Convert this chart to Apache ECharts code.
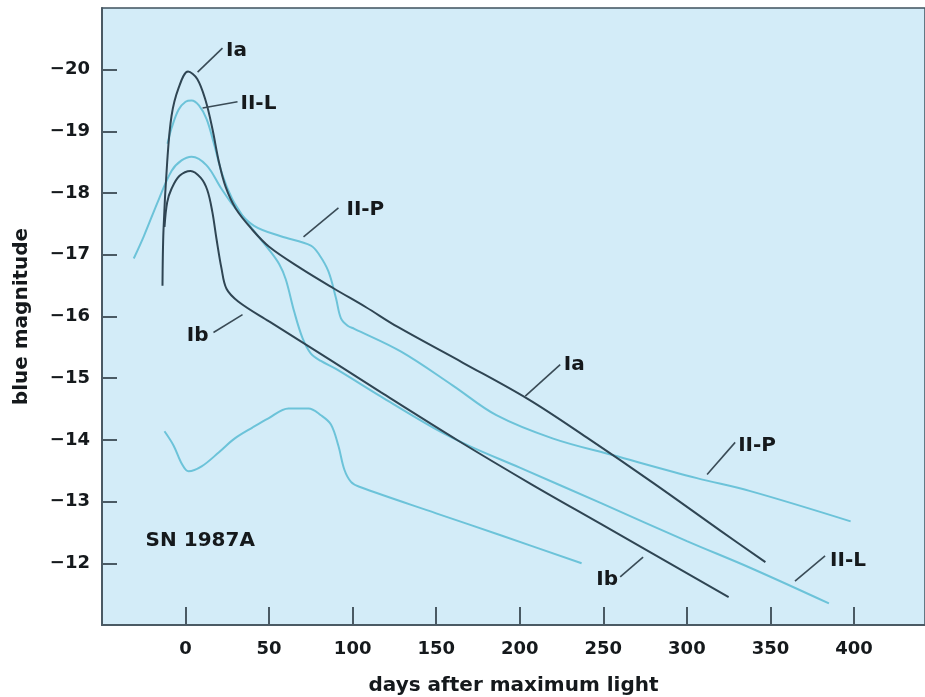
<!DOCTYPE html>
<html>
<head>
<meta charset="utf-8">
<script src="https://cdn.jsdelivr.net/npm/echarts@6/dist/echarts.min.js"></script>
<style>html,body{margin:0;padding:0;background:#fff}#c{width:925px;height:697px}</style>
</head>
<body>
<div id="c"></div>
<script>
// ---- data (days after maximum, blue magnitude) ----
var xTicks = [0, 50, 100, 150, 200, 250, 300, 350, 400];
var yTicks = [-20, -19, -18, -17, -16, -15, -14, -13, -12];

var typeIa = [[-13.8,-16.5],[-13.2,-17.4],[-11,-18.5],[-8.4,-19.25],[-4.2,-19.7],[1.5,-19.97],[7,-19.85],[12,-19.5],[16,-19.05],[20,-18.5],[24,-18.1],[30,-17.75],[39.5,-17.42],[50,-17.13],[69,-16.78],[89,-16.45],[108,-16.15],[127,-15.83],[166,-15.25],[205,-14.66],[240,-14.04],[280,-13.3],[320,-12.53],[347,-12.02]];
var typeIb = [[-12.6,-17.45],[-11,-17.85],[-8.4,-18.07],[-3.6,-18.28],[3,-18.36],[9,-18.25],[13,-18.05],[16,-17.7],[18.5,-17.26],[21.5,-16.78],[24.5,-16.45],[31.7,-16.24],[50,-15.92],[87,-15.29],[117,-14.77],[163,-13.99],[207,-13.28],[249,-12.63],[325,-11.45]];
var typeIIL = [[-10.8,-18.8],[-8.4,-19.05],[-4.2,-19.35],[0,-19.48],[3.6,-19.5],[8,-19.42],[12.6,-19.2],[17,-18.8],[22,-18.3],[28,-17.9],[35,-17.6],[42,-17.35],[50,-17.08],[56,-16.85],[60,-16.6],[65,-16.08],[70,-15.65],[75,-15.4],[81,-15.28],[90,-15.15],[117,-14.7],[150,-14.17],[170,-13.9],[200,-13.55],[249,-12.97],[300,-12.36],[338.5,-11.92],[385,-11.35]];
var typeIIP = [[-31,-16.94],[-25,-17.3],[-16,-17.9],[-8.4,-18.36],[-2.4,-18.53],[3.6,-18.59],[12.6,-18.45],[21.5,-18.07],[30,-17.75],[41,-17.47],[57,-17.3],[75,-17.15],[80,-17.0],[85.5,-16.73],[90,-16.3],[93,-15.97],[97,-15.85],[101,-15.8],[129,-15.43],[160,-14.88],[186,-14.4],[220,-14.02],[256,-13.75],[306,-13.38],[338,-13.17],[398,-12.68]];
var sn1987A = [[-12.6,-14.14],[-7.2,-13.91],[-2,-13.6],[1.8,-13.49],[9.6,-13.57],[20,-13.8],[29.3,-14.02],[40,-14.2],[49.6,-14.35],[61.6,-14.51],[73.6,-14.51],[81,-14.4],[87,-14.25],[91.5,-13.9],[95,-13.52],[99,-13.32],[104,-13.24],[150,-12.81],[189,-12.45],[237,-12.0]];

// annotation texts, their anchor (data coords) and pointer segments
var noteTexts = ['Ia', 'II-L', 'II-P', 'Ib', 'Ia', 'II-P', 'II-L', 'Ib', 'SN 1987A'];
var notePos = [[30.5,-20.30],[43.6,-19.45],[107.6,-17.73],[7.2,-15.68],[232.6,-15.22],[342,-13.90],[396.4,-12.04],[252.3,-11.73],[-23.9,-12.36]];
var notePointers = [
  [[7.2,-19.96],[22.1,-20.35]],
  [[10.2,-19.38],[31.1,-19.48]],
  [[70.6,-17.29],[91.5,-17.76]],
  [[16.7,-15.74],[34.1,-16.03]],
  [[203.3,-14.71],[224.2,-15.22]],
  [[312.1,-13.44],[328.9,-13.96]],
  [[364.7,-11.71],[382.7,-12.12]],
  [[260.1,-11.78],[273.8,-12.10]]
];

var DARK = '#2f4553', LIGHT = '#6cc3d9', TXT = '#15191c';
var FONT = '"DejaVu Sans", sans-serif';

function curve(name, data, color) {
  return { name: name, type: 'line', data: data, smooth: 0.35, showSymbol: false, symbol: 'none',
    lineStyle: { color: color, width: 2 }, silent: true, z: color === DARK ? 4 : 3 };
}

var noteData = noteTexts.map(function (t, i) {
  return { value: notePos[i], label: { formatter: t, align: t === 'SN 1987A' ? 'left' : 'center' } };
});

var chart = echarts.init(document.getElementById('c'), null, { renderer: 'canvas' });
chart.setOption({
  animation: false,
  backgroundColor: '#ffffff',
  grid: { left: 102, right: 0, top: 8, bottom: 72, containLabel: false, outerBoundsMode: 'none',
    show: true, backgroundColor: '#d3ecf8', borderColor: '#3f525e', borderWidth: 1.5 },
  xAxis: {
    type: 'value', min: -50, max: 442.5, interval: 50,
    name: 'days after maximum light', nameLocation: 'middle', nameGap: 51,
    nameTextStyle: { fontFamily: FONT, fontWeight: 'bold', fontSize: 20, color: TXT },
    axisLine: { show: true, onZero: false, lineStyle: { color: '#4a5a64', width: 2 } },
    axisTick: { show: true, inside: true, length: 18, customValues: xTicks, lineStyle: { color: '#4a5a64', width: 2 } },
    axisLabel: { customValues: xTicks, margin: 15, fontFamily: FONT, fontWeight: 'bold', fontSize: 18, color: TXT },
    splitLine: { show: false }
  },
  yAxis: {
    type: 'value', min: -21, max: -11, interval: 1, inverse: true,
    name: 'blue magnitude', nameLocation: 'middle', nameGap: 70,
    nameTextStyle: { fontFamily: FONT, fontWeight: 'bold', fontSize: 20, color: TXT },
    axisLine: { show: true, onZero: false, lineStyle: { color: '#4a5a64', width: 2 } },
    axisTick: { show: true, inside: true, length: 15, customValues: yTicks, lineStyle: { color: '#4a5a64', width: 2 } },
    axisLabel: { customValues: yTicks, margin: 12, fontFamily: FONT, fontWeight: 'bold', fontSize: 18, color: TXT,
      formatter: function (v) { return String(v).replace('-', '\u2212'); } },
    splitLine: { show: false }
  },
  series: [
    curve('II-P', typeIIP, LIGHT),
    curve('II-L', typeIIL, LIGHT),
    curve('SN 1987A', sn1987A, LIGHT),
    curve('Ia', typeIa, DARK),
    curve('Ib', typeIb, DARK),
    { type: 'lines', coordinateSystem: 'cartesian2d', silent: true, z: 5,
      lineStyle: { color: '#3a4b56', width: 1.6, opacity: 1 },
      data: notePointers.map(function (p) { return { coords: p }; }) },
    { type: 'scatter', symbolSize: 0, silent: true, z: 6, data: noteData,
      label: { show: true, position: [0, 0], fontFamily: FONT, fontWeight: 'bold', fontSize: 20, color: TXT, opacity: 1, verticalAlign: 'middle' } }
  ]
});
</script>
</body>
</html>
